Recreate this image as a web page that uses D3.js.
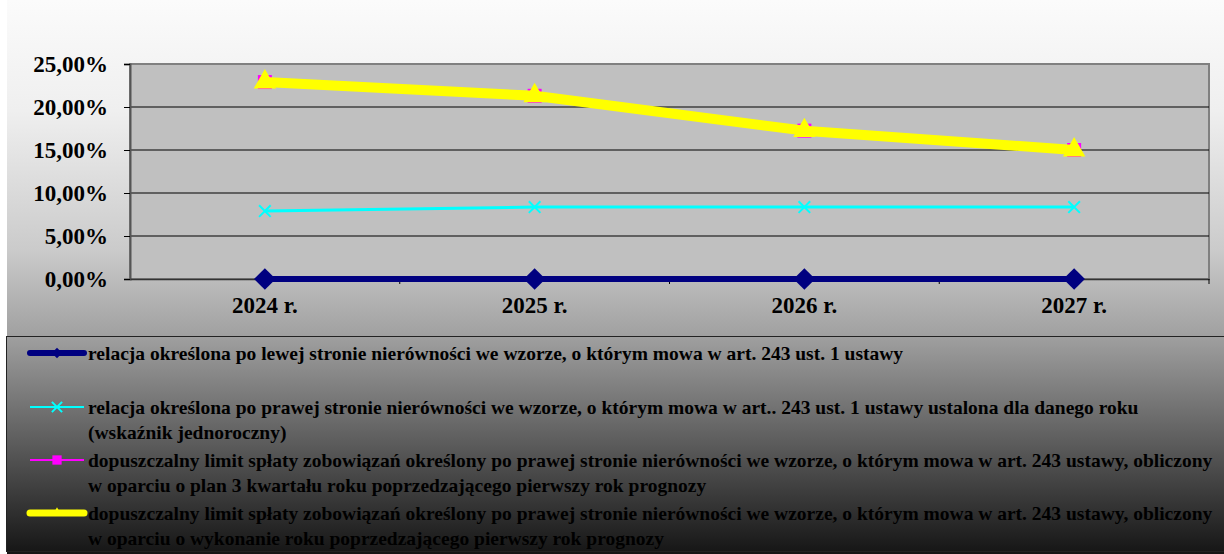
<!DOCTYPE html>
<html>
<head>
<meta charset="utf-8">
<script src="https://cdn.jsdelivr.net/npm/d3@7"></script>
<style>
  body { margin: 0; background: #fff; }
  svg { display: block; }
  text { font-family: "Liberation Serif", "Times New Roman", serif; font-weight: bold; }
</style>
</head>
<body>
<svg width="1224" height="554"></svg>
<script>
// dane
const years = ['2024 r.', '2025 r.', '2026 r.', '2027 r.'];
const yTicks = [0, 5, 10, 15, 20, 25];

const relacjaLewa = [0, 0, 0, 0];
const relacjaPrawa = [7.9, 8.37, 8.37, 8.37];
const limitPlan = [22.9, 21.3, 17.25, 15.0];
const limitWykonanie = [22.9, 21.3, 17.25, 15.0];

const labelLewa = ['relacja określona po lewej stronie nierówności we wzorze, o którym mowa w art. 243 ust. 1 ustawy'];
const labelPrawa = ['relacja określona po prawej stronie nierówności we wzorze, o którym mowa w art.. 243 ust. 1 ustawy ustalona dla danego roku', '(wskaźnik jednoroczny)'];
const labelPlan = ['dopuszczalny limit spłaty zobowiązań określony po prawej stronie nierówności we wzorze, o którym mowa w art. 243 ustawy, obliczony', 'w oparciu o plan 3 kwartału roku poprzedzającego pierwszy rok prognozy'];
const labelWykonanie = ['dopuszczalny limit spłaty zobowiązań określony po prawej stronie nierówności we wzorze, o którym mowa w art. 243 ustawy, obliczony', 'w oparciu o wykonanie roku poprzedzającego pierwszy rok prognozy'];

const series = [
    {values: relacjaLewa, label: labelLewa, color: '#000080', width: 6, legendWidth: 6, symbol: d3.symbolDiamond2, size: 300, legendY: 353},
    {values: relacjaPrawa, label: labelPrawa, color: '#00ffff', width: 3, legendWidth: 2, symbol: d3.symbolTimes, size: 90, legendY: 407},
    {values: limitPlan, label: labelPlan, color: '#ff00ff', width: 3, legendWidth: 2, symbol: d3.symbolSquare2, size: 250, legendY: 460},
    {values: limitWykonanie, label: labelWykonanie, color: '#ffff00', width: 10, legendWidth: 7, symbol: d3.symbolTriangle2, size: 360, legendY: 513}
];

const svg = d3.select('svg');
const width = +svg.attr('width');
const height = +svg.attr('height');

// tlo z gradientem
const grad = svg.append('defs').append('linearGradient')
    .attr('id', 'bg').attr('x1', 0).attr('y1', 0).attr('x2', 0).attr('y2', 1);
[[0, '#fbfbfb'], [0.2, '#efefef'], [0.45, '#cbcbcb'], [0.6, '#a2a2a2'], [0.8, '#5c5c5c'], [1, '#151515']]
    .forEach(s => grad.append('stop').attr('offset', s[0]).attr('stop-color', s[1]));

svg.append('rect').attr('x', 7).attr('y', 0).attr('width', width - 7).attr('height', height)
    .attr('fill', 'url(#bg)');

const margin = {top: 64, right: 15, left: 130};
const plotBottom = 279;

const x = d3.scaleBand()
    .domain(years)
    .range([margin.left, width - margin.right]);

const y = d3.scaleLinear()
    .domain([0, 25])
    .range([plotBottom, margin.top]);

// obszar wykresu
svg.append('rect')
    .attr('x', margin.left).attr('y', margin.top)
    .attr('width', x.range()[1] - margin.left).attr('height', plotBottom - margin.top)
    .attr('fill', '#c0c0c0').attr('stroke', '#808080').attr('stroke-width', 2);

// linie siatki
svg.append('g').selectAll('line').data(yTicks.slice(1, -1)).join('line')
    .attr('x1', margin.left).attr('x2', x.range()[1])
    .attr('y1', d => y(d)).attr('y2', d => y(d))
    .attr('stroke', '#000').attr('stroke-width', 1);

// os Y
const yAxis = svg.append('g')
    .attr('transform', `translate(${margin.left},0)`)
    .call(d3.axisLeft(y).tickValues(yTicks).tickSize(6).tickPadding(16)
        .tickFormat(d => d3.format('.2f')(d).replace('.', ',') + '%'));
yAxis.select('.domain').attr('stroke', '#555').attr('stroke-width', 2);
yAxis.selectAll('.tick line').attr('stroke', '#000');
yAxis.selectAll('text').attr('font-size', 23).attr('fill', '#000')
    .attr('font-family', '"Liberation Serif", serif').attr('font-weight', 'bold');

// os X
const xAxis = svg.append('g')
    .attr('transform', `translate(0,${plotBottom})`)
    .call(d3.axisBottom(x).tickSize(0).tickPadding(18));
xAxis.select('.domain').attr('stroke', '#333').attr('stroke-width', 1.5);
xAxis.selectAll('text').attr('font-size', 23).attr('fill', '#000')
    .attr('font-family', '"Liberation Serif", serif').attr('font-weight', 'bold');
xAxis.append('g').selectAll('line').data(years).join('line')
    .attr('x1', d => x(d) + x.bandwidth())
    .attr('x2', d => x(d) + x.bandwidth())
    .attr('y1', 0).attr('y2', 5).attr('stroke', '#000');

// linie serii
const line = d3.line()
    .x((d, i) => x(years[i]) + x.bandwidth() / 2)
    .y(d => y(d));

series.forEach(s => {
    svg.append('path')
        .datum(s.values)
        .attr('d', line)
        .attr('fill', 'none')
        .attr('stroke', s.color)
        .attr('stroke-width', s.width)
        .attr('stroke-linejoin', 'round');
    svg.append('g').selectAll('path').data(s.values).join('path')
        .attr('transform', (d, i) => `translate(${x(years[i]) + x.bandwidth() / 2},${y(d)})`)
        .attr('d', d3.symbol(s.symbol, s.size))
        .attr('fill', s.symbol === d3.symbolTimes ? 'none' : s.color)
        .attr('stroke', s.symbol === d3.symbolTimes ? s.color : 'none')
        .attr('stroke-width', 2);
});

// legenda
svg.append('rect')
    .attr('x', 6.5).attr('y', 336.5).attr('width', width).attr('height', 215)
    .attr('fill', 'none').attr('stroke', '#222').attr('stroke-width', 1);

const leg = svg.append('g').selectAll('g').data(series).join('g')
    .attr('transform', d => `translate(0,${d.legendY})`);

leg.append('line')
    .attr('x1', 30).attr('x2', 84).attr('y1', 0).attr('y2', 0)
    .attr('stroke', d => d.color)
    .attr('stroke-width', d => d.legendWidth)
    .attr('stroke-linecap', d => d.legendWidth === 2 ? 'butt' : 'round');

leg.append('path')
    .attr('transform', 'translate(57,0)')
    .attr('d', d => d3.symbol(d.symbol, d.symbol === d3.symbolSquare2 ? 110 : 70)())
    .attr('fill', d => d.symbol === d3.symbolTimes ? 'none' : d.color)
    .attr('stroke', d => d.symbol === d3.symbolTimes ? d.color : 'none')
    .attr('stroke-width', 2);

leg.each(function(d) {
    const t = d3.select(this).append('text')
        .attr('x', 88).attr('y', 0)
        .attr('font-size', 19.5).attr('fill', '#000');
    d.label.forEach((l, i) => {
        t.append('tspan').attr('x', 88).attr('dy', i === 0 ? '0.35em' : 25).text(l);
    });
});
</script>
</body>
</html>
